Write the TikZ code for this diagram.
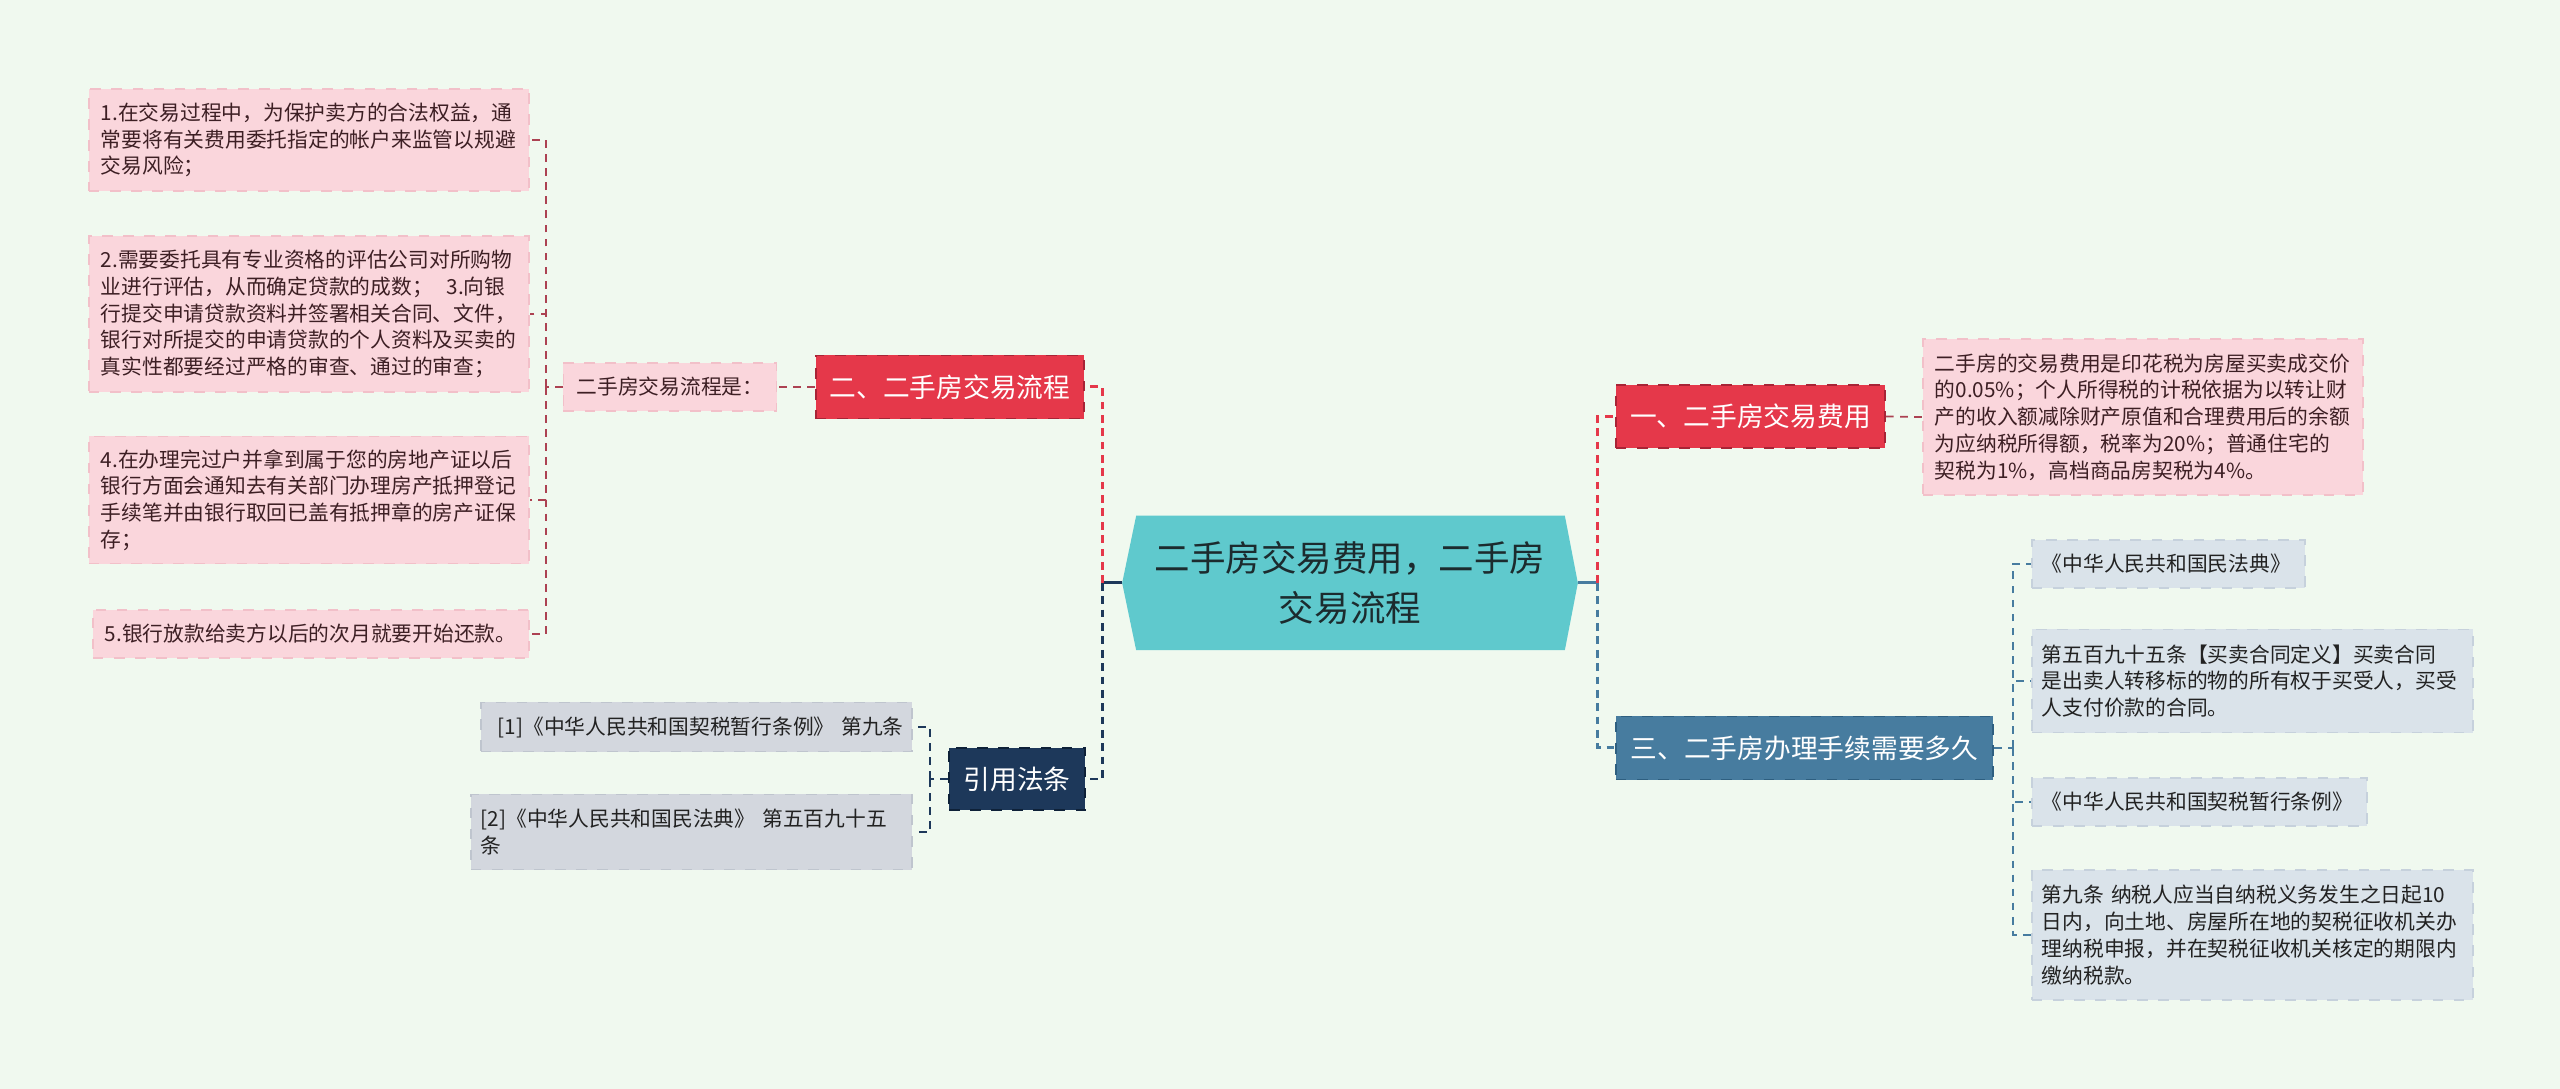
\documentclass[tikz,border=0pt]{standalone}
\usepackage{fontspec}
\setmainfont{Noto Sans CJK SC}
\usetikzlibrary{backgrounds,calc,positioning}

\definecolor{bgc}{HTML}{F0F9EF}
\definecolor{rootc}{HTML}{5FC9CD}
\definecolor{roottxt}{HTML}{1C2B2E}
\definecolor{redc}{HTML}{E5384A}
\definecolor{redb}{HTML}{A82436}
\definecolor{navyc}{HTML}{1D385A}
\definecolor{navyb}{HTML}{0E2138}
\definecolor{steelc}{HTML}{477C9F}
\definecolor{steelb}{HTML}{2E5F80}
\definecolor{pinkc}{HTML}{FAD6DC}
\definecolor{pinkb}{HTML}{F2C0C9}
\definecolor{pinktxt}{HTML}{3D1F24}
\definecolor{bluec}{HTML}{DAE3EA}
\definecolor{blueb}{HTML}{C6D1DC}
\definecolor{greyc}{HTML}{D3D7DE}
\definecolor{greyb}{HTML}{BFC5CE}
\definecolor{leaftxt}{HTML}{222222}
\definecolor{lnkp}{HTML}{AC4252}

\tikzset{
  leafpink/.style={fill=pinkc, draw=pinkb, dashed, line width=0.4pt, text=pinktxt,
    font=\fontsize{5.9}{7.6}\selectfont, align=left, inner xsep=0.12cm, inner ysep=0pt},
  leafblue/.style={fill=bluec, draw=blueb, dashed, line width=0.4pt, text=leaftxt,
    font=\fontsize{5.9}{7.6}\selectfont, align=left, inner xsep=0.10cm, inner ysep=0pt},
  leafgrey/.style={fill=greyc, draw=greyb, dashed, line width=0.4pt, text=leaftxt,
    font=\fontsize{5.9}{7.6}\selectfont, align=left, inner xsep=0.10cm, inner ysep=0pt},
  branch/.style={dashed, line width=0.5pt, text=white, minimum height=0.63cm,
    inner xsep=0pt, font=\fontsize{7.6}{9}\selectfont},
  lnkbig/.style={line width=0.85pt, dash pattern=on 2.2pt off 1.6pt},
  lnksmall/.style={line width=0.5pt, dash pattern=on 2.2pt off 1.8pt}
}

\begin{document}
\begin{tikzpicture}[x=0.01cm,y=-0.01cm]
\useasboundingbox (0,0) rectangle (2560,1089);

% centre
\node[minimum width=4.54cm, minimum height=1.33cm, inner sep=0pt, text=roottxt,
  align=center, font=\fontsize{10.1}{14.2}\selectfont] (root) at (1350,583)
  {二手房交易费用，二手房\\交易流程};

% main branches
\begin{scope}[every node/.style={branch}]
  \node[fill=redc, draw=redb, minimum width=2.69cm] (fee) at (1750.5,416.5) {一、二手房交易费用};
  \node[fill=redc, draw=redb, minimum width=2.68cm] (flow) at (950,387) {二、二手房交易流程};
  \node[fill=steelc, draw=steelb, minimum width=3.77cm] (time) at (1804.5,748) {三、二手房办理手续需要多久};
  \node[fill=navyc, draw=navyb, minimum width=1.36cm, minimum height=0.62cm] (cite) at (1017,779) {引用法条};
\end{scope}

% left side
\node[leafpink, minimum width=2.13cm, minimum height=0.48cm, align=center, inner xsep=0pt] (flowis) at (670,387) {二手房交易流程是：};
\begin{scope}[every node/.style={leafpink, text width=4.16cm}]
  \node[minimum height=1.02cm] (step1) at (309,140)
    {1.在交易过程中，为保护卖方的合法权益，通\\常要将有关费用委托指定的帐户来监管以规避\\交易风险；};
  \node[minimum height=1.56cm] (step2) at (309,314)
    {2.需要委托具有专业资格的评估公司对所购物\\业进行评估，从而确定贷款的成数；\ \ 3.向银\\行提交申请贷款资料并签署相关合同、文件，\\银行对所提交的申请贷款的个人资料及买卖的\\真实性都要经过严格的审查、通过的审查；};
  \node[minimum height=1.27cm] (step4) at (309,500)
    {4.在办理完过户并拿到属于您的房地产证以后\\银行方面会通知去有关部门办理房产抵押登记\\手续笔并由银行取回已盖有抵押章的房产证保\\存；};
  \node[minimum height=0.48cm, text width=4.12cm] (step5) at (311,634)
    {5.银行放款给卖方以后的次月就要开始还款。};
\end{scope}

\begin{scope}[every node/.style={leafgrey}]
  \node[minimum height=0.49cm, text width=4.11cm] (law1) at (696.5,727)
    {\mbox{\ [1]《中华人民共和国契税暂行条例》~第九条}};
  \node[minimum height=0.75cm, text width=4.21cm] (law2) at (691.5,832)
    {[2]《中华人民共和国民法典》 第五百九十五\\条};
\end{scope}

% right side
\node[leafpink, text width=4.16cm, minimum height=1.56cm] (feetext) at (2143,417)
  {二手房的交易费用是印花税为房屋买卖成交价\\的0.05\%；个人所得税的计税依据为以转让财\\产的收入额减除财产原值和合理费用后的余额\\为应纳税所得额，税率为20\%；普通住宅的\\契税为1\%，高档商品房契税为4\%。};

\begin{scope}[every node/.style={leafblue}]
  \node[minimum height=0.48cm, text width=2.53cm] (code1) at (2168.5,564) {《中华人民共和国民法典》};
  \node[minimum height=1.03cm, text width=4.21cm] (art595) at (2252.5,681)
    {第五百九十五条【买卖合同定义】买卖合同\\是出卖人转移标的物的所有权于买受人，买受\\人支付价款的合同。};
  \node[minimum height=0.48cm, text width=3.15cm] (code2) at (2199.5,802) {《中华人民共和国契税暂行条例》};
  \node[minimum height=1.30cm, text width=4.21cm] (art9) at (2252.5,935)
    {第九条 纳税人应当自纳税义务发生之日起10\\日内，向土地、房屋所在地的契税征收机关办\\理纳税申报，并在契税征收机关核定的期限内\\缴纳税款。};
\end{scope}

% connectors
\draw[line width=0.85pt, navyc] (root.west) -- ++(-20,0) coordinate (jl);
\draw[line width=0.85pt, steelc] (root.east) -- ++(20,0) coordinate (jr);
\draw[lnkbig, redc] (jl) |- (flow.east);
\draw[lnkbig, navyc] (jl) |- (cite.east);
\draw[lnkbig, redc] (jr) |- (fee.west);
\draw[lnkbig, steelc] (jr) |- (time.west);

\draw[lnksmall, lnkp] (flow.west) -- (flowis.east);
\draw[lnksmall, lnkp] (fee.east) -- (feetext.west);
\draw[lnksmall, lnkp] (flowis.west) -- ++(-17,0) coordinate (jf);
\foreach \s in {step1,step2,step4,step5}
  \draw[lnksmall, lnkp] (jf) |- (\s.east);

\draw[lnksmall, navyc] (cite.west) -- ++(-18,0) coordinate (jc);
\foreach \s in {law1,law2}
  \draw[lnksmall, navyc] (jc) |- (\s.east);

\draw[lnksmall, steelc] (time.east) -- ++(19,0) coordinate (jt);
\foreach \s in {code1,art595,code2,art9}
  \draw[lnksmall, steelc] (jt) |- (\s.west);

\begin{scope}[on background layer]
  \fill[bgc] (0,0) rectangle (2560,1089);
  \fill[rootc] (root.west) -- ($(root.north west)+(14,0)$) -- ($(root.north east)+(-13,0)$)
    -- (root.east) -- ($(root.south east)+(-13,0)$) -- ($(root.south west)+(14,0)$) -- cycle;
\end{scope}
\end{tikzpicture}
\end{document}
